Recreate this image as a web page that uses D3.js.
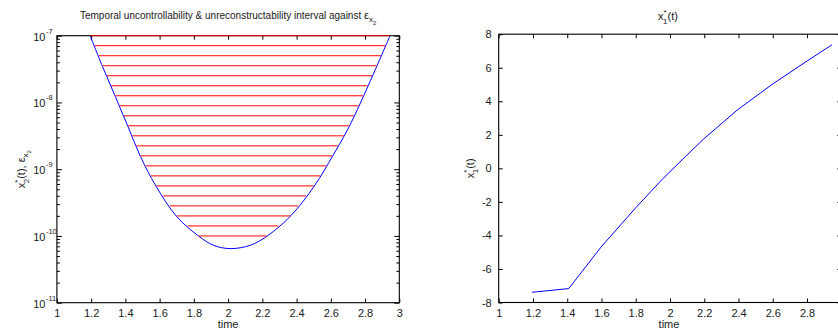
<!DOCTYPE html>
<html><head><meta charset="utf-8">
<script src="https://cdn.jsdelivr.net/npm/d3@7"></script>
<style>
body{margin:0;background:#fff;}
text{font-family:"Liberation Sans",Arial,Helvetica,sans-serif;fill:#1a1a1a;}
</style></head>
<body><svg id="c" width="838" height="333"></svg>
<script>
// ---- Left chart data: x2*(t) / eps_x2 boundary (log scale) ----
const leftTime = [1.194, 1.266, 1.341, 1.415, 1.488, 1.578, 1.70, 1.827, 1.915, 2.012, 2.129, 2.229, 2.366, 2.504, 2.611, 2.708, 2.792, 2.870, 2.946];
const leftValue = [1.0e-7, 3.47e-8, 1.23e-8, 4.37e-9, 1.55e-9, 5.62e-10, 1.95e-10, 1.0e-10, 7.24e-11, 6.46e-11, 7.24e-11, 1.0e-10, 2.0e-10, 5.62e-10, 1.58e-9, 4.37e-9, 1.26e-8, 3.55e-8, 1.0e-7];
// hatch levels (epsilon values), log10 exponents
const hatchExp = [-7, -7.15, -7.3, -7.45, -7.6, -7.75, -7.9, -8.05, -8.2, -8.35, -8.5, -8.65, -8.8, -8.95, -9.1, -9.25, -9.4, -9.55, -9.7, -9.85, -10];
const leftXTicks = [1, 1.2, 1.4, 1.6, 1.8, 2, 2.2, 2.4, 2.6, 2.8, 3];
const leftYDecades = [-7, -8, -9, -10, -11];

// ---- Right chart data: x1*(t) ----
const rightTime = [1.195, 1.409, 1.6, 1.8, 1.956, 2.053, 2.193, 2.393, 2.595, 2.8, 2.946];
const rightValue = [-7.39, -7.17, -4.66, -2.35, -0.64, 0.33, 1.72, 3.48, 5.0, 6.4, 7.37];
const rightXTicks = [1, 1.2, 1.4, 1.6, 1.8, 2, 2.2, 2.4, 2.6, 2.8, 3];
const rightXLabels = [1, 1.2, 1.4, 1.6, 1.8, 2, 2.2, 2.4, 2.6, 2.8];
const rightYTicks = [-8, -6, -4, -2, 0, 2, 4, 6, 8];

const svg = d3.select("#c");
const tickFmt = d => String(+d.toFixed(1));

function starLabel(t, sub, rest) {
  t.append("tspan").text("x");
  t.append("tspan").text("*").attr("dy", -5).style("font-size", "8px");
  t.append("tspan").text(sub).attr("dx", -3.6).attr("dy", 9).style("font-size", "8px");
  t.append("tspan").text(rest).attr("dy", -4);
}

// ================= LEFT =================
const L = {x0: 56.9, x1: 399.3, y0: 35.7, y1: 302.7};
const xL = d3.scaleLinear().domain([1, 3]).range([L.x0, L.x1]);
const yL = d3.scaleLog().domain([1e-11, 1e-7]).range([L.y1, L.y0]);
const gL = svg.append("g");

const bx = gL.append("g").attr("transform", `translate(0,${L.y1})`)
  .call(d3.axisBottom(xL).tickValues(leftXTicks).tickSize(-4).tickPadding(7).tickFormat(tickFmt));
gL.append("g").attr("transform", `translate(0,${L.y0})`)
  .call(d3.axisTop(xL).tickValues(leftXTicks).tickSize(-4).tickFormat(""));
const minorVals = [];
for (let e = -11; e < -7; e++) for (let m = 2; m <= 9; m++) minorVals.push(m * Math.pow(10, e));
const majorVals = leftYDecades.map(e => Math.pow(10, e));
gL.append("g").attr("transform", `translate(${L.x0},0)`)
  .call(d3.axisLeft(yL).tickValues(majorVals).tickSize(-5).tickFormat(""));
gL.append("g").attr("transform", `translate(${L.x0},0)`)
  .call(d3.axisLeft(yL).tickValues(minorVals).tickSize(-3).tickFormat(""));
gL.append("g").attr("transform", `translate(${L.x1},0)`)
  .call(d3.axisRight(yL).tickValues(majorVals).tickSize(-5).tickFormat(""));
gL.append("g").attr("transform", `translate(${L.x1},0)`)
  .call(d3.axisRight(yL).tickValues(minorVals).tickSize(-3).tickFormat(""));
gL.selectAll(".domain").remove();
gL.selectAll(".tick line").attr("stroke", "#000");
bx.selectAll("text").style("font-size", "11px").attr("fill", "#1a1a1a");

leftYDecades.forEach(e => {
  gL.append("text").attr("x", L.x0 - 11.5).attr("y", yL(Math.pow(10, e)) + 5)
    .attr("text-anchor", "end").style("font-size", "11px").text("10");
  gL.append("text").attr("x", L.x0 - 11).attr("y", yL(Math.pow(10, e)) - 2)
    .attr("text-anchor", "start").style("font-size", "7.5px").text(String(e));
});

const lineL = d3.line().x((d, i) => xL(leftTime[i])).y(d => yL(d)).curve(d3.curveCatmullRom.alpha(0.5));
gL.append("path").datum(leftValue).attr("d", lineL).attr("fill", "none").attr("stroke", "#0000ff").attr("stroke-width", 1);

gL.append("rect").attr("x", L.x0).attr("y", L.y0).attr("width", L.x1 - L.x0).attr("height", L.y1 - L.y0)
  .attr("fill", "none").attr("stroke", "#000").attr("stroke-width", 1.1);

const lv = leftValue.map(v => Math.log10(v));
let iMin = 0; lv.forEach((v, i) => { if (v < lv[iMin]) iMin = i; });
function cross(e, side) {
  const idx = side < 0 ? d3.range(0, iMin) : d3.range(iMin, lv.length - 1);
  for (const i of idx) {
    const a = lv[i], b = lv[i + 1];
    if ((e - a) * (e - b) <= 0 && a !== b) return leftTime[i] + (e - a) / (b - a) * (leftTime[i + 1] - leftTime[i]);
  }
  return null;
}
gL.selectAll("line.hatch").data(hatchExp).enter().append("line").attr("class", "hatch")
  .attr("x1", e => xL(cross(e, -1)) + 0.5).attr("x2", e => xL(cross(e, 1)) - 0.5)
  .attr("y1", e => yL(Math.pow(10, e))).attr("y2", e => yL(Math.pow(10, e)))
  .attr("stroke", "#ff0000").attr("stroke-width", 1);

const tl = gL.append("text").attr("x", (L.x0 + L.x1) / 2).attr("y", 19).attr("text-anchor", "middle").style("font-size", "10px");
tl.append("tspan").text("Temporal uncontrollability & unreconstructability interval against ");
tl.append("tspan").text("ε").style("font-size", "11px");
tl.append("tspan").text("x").attr("dy", 3).style("font-size", "8px");
tl.append("tspan").text("2").attr("dy", 3).style("font-size", "6px");
gL.append("text").attr("x", (L.x0 + L.x1) / 2).attr("y", 328).attr("text-anchor", "middle").style("font-size", "11px").text("time");
const yl = gL.append("text").attr("transform", `translate(25,${(L.y0 + L.y1) / 2}) rotate(-90)`).attr("text-anchor", "middle").style("font-size", "11px");
starLabel(yl, "2", "(t), ");
yl.append("tspan").text("ε");
yl.append("tspan").text("x").attr("dy", 3).style("font-size", "8px");
yl.append("tspan").text("2").attr("dy", 3).style("font-size", "6px");

// ================= RIGHT =================
const R = {x0: 498.7, x1: 841.3, y0: 34.2, y1: 302.5};
const xR = d3.scaleLinear().domain([1, 3]).range([R.x0, R.x1]);
const yR = d3.scaleLinear().domain([-8, 8]).range([R.y1, R.y0]);
const gR = svg.append("g");
gR.append("g").attr("transform", `translate(0,${R.y1})`)
  .call(d3.axisBottom(xR).tickValues(rightXTicks).tickSize(-4).tickPadding(7)
    .tickFormat(d => rightXLabels.includes(d) ? tickFmt(d) : ""));
gR.append("g").attr("transform", `translate(0,${R.y0})`)
  .call(d3.axisTop(xR).tickValues(rightXTicks).tickSize(-4).tickFormat(""));
gR.append("g").attr("transform", `translate(${R.x0},0)`)
  .call(d3.axisLeft(yR).tickValues(rightYTicks).tickSize(-4).tickPadding(7).tickFormat(d => d));
gR.append("g").attr("transform", `translate(${R.x1},0)`)
  .call(d3.axisRight(yR).tickValues(rightYTicks).tickSize(-4).tickFormat(""));
gR.selectAll(".domain").remove();
gR.selectAll(".tick line").attr("stroke", "#000");
gR.selectAll(".tick text").style("font-size", "11px").attr("fill", "#1a1a1a");
gR.append("rect").attr("x", R.x0).attr("y", R.y0).attr("width", R.x1 - R.x0).attr("height", R.y1 - R.y0)
  .attr("fill", "none").attr("stroke", "#000").attr("stroke-width", 1.1);
const lineR = d3.line().x((d, i) => xR(rightTime[i])).y(d => yR(d));
gR.append("path").datum(rightValue).attr("d", lineR).attr("fill", "none").attr("stroke", "#0000ff").attr("stroke-width", 1);

const tr = gR.append("text").attr("x", 668).attr("y", 20).attr("text-anchor", "middle").style("font-size", "11px");
starLabel(tr, "1", "(t)");
gR.append("text").attr("x", 669).attr("y", 328).attr("text-anchor", "middle").style("font-size", "11px").text("time");
const yr = gR.append("text").attr("transform", `translate(474,${(R.y0 + R.y1) / 2}) rotate(-90)`).attr("text-anchor", "middle").style("font-size", "11px");
starLabel(yr, "1", "(t)");
</script></body></html>
